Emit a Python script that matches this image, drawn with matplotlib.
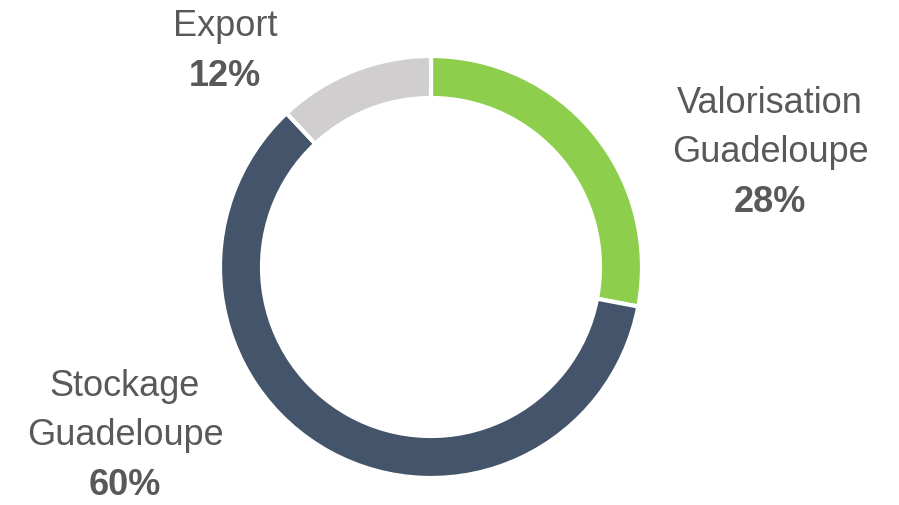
import matplotlib.pyplot as plt

# Data
categories = ['Valorisation\nGuadeloupe', 'Stockage\nGuadeloupe', 'Export']
shares = [28, 60, 12]
colors = ['#8DCF4C', '#44546A', '#D0CECE']

# label anchor (pixel, from top-left) for each category
label_pos = [(770, 103), (125, 386), (225, 26)]

plt.rcParams['font.family'] = ['Liberation Sans', 'DejaVu Sans']

fig = plt.figure(figsize=(8.99, 5.06), dpi=100)
ax = fig.add_axes([0, 0, 1, 1])

ax.pie(shares, colors=colors, startangle=90, counterclock=False,
       center=(431, 506 - 268), radius=211, frame=True,
       wedgeprops=dict(width=42, edgecolor='white', linewidth=3))
ax.set_xlim(0, 899)
ax.set_ylim(0, 506)
ax.set_aspect('equal')
ax.axis('off')

line_gap = 50
for name, val, (x, y) in zip(categories, shares, label_pos):
    lines = name.split('\n')
    for i, ln in enumerate(lines):
        ax.text(x, 506 - (y + i * line_gap), ln, ha='center', va='center',
                fontsize=26, color='#595959')
    ax.text(x, 506 - (y + len(lines) * line_gap), f'{val}%', ha='center',
            va='center', fontsize=26, fontweight='bold', color='#595959')

fig.savefig('out.png', dpi=100)
